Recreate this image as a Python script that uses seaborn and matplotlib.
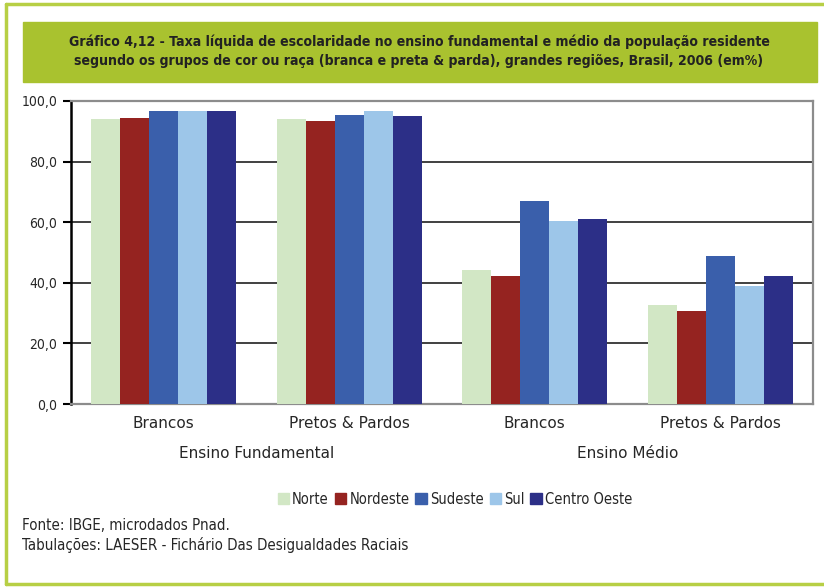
import pandas as pd
import seaborn as sns
from matplotlib import pyplot as plt
from matplotlib.patches import Rectangle
from matplotlib.lines import Line2D
from matplotlib.ticker import FuncFormatter

grupos = ["Brancos F", "Pretos & Pardos F", "Brancos M", "Pretos & Pardos M"]
rotulos = ["Brancos", "Pretos & Pardos", "Brancos", "Pretos & Pardos"]
niveis = ["Ensino Fundamental", "Ensino Médio"]
regioes = ["Norte", "Nordeste", "Sudeste", "Sul", "Centro Oeste"]
cores = ["#d2e7c5", "#952320", "#3a5fab", "#9dc6e9", "#2c2f87"]

norte = [94.0, 94.0, 44.3, 32.7]
nordeste = [94.5, 93.4, 42.1, 30.6]
sudeste = [96.7, 95.5, 66.9, 48.7]
sul = [96.7, 96.7, 60.4, 39.0]
centro_oeste = [96.7, 95.0, 60.9, 42.1]

valores = [norte, nordeste, sudeste, sul, centro_oeste]
rows = []
for regiao, serie in zip(regioes, valores):
    for grupo, v in zip(grupos, serie):
        rows.append({"grupo": grupo, "regiao": regiao, "taxa": v})
df = pd.DataFrame(rows)

sns.set_style("white")
plt.rcParams["font.family"] = ["DejaVu Sans"]
plt.rcParams["font.stretch"] = "condensed"

fig = plt.figure(figsize=(8.24, 5.87), dpi=100)
W, H = 824, 587

# green frame
verde = "#b7cf45"
fig.add_artist(Line2D([6 / W, 6 / W], [1 - 4 / H, 1 - 584 / H], color=verde, lw=2.5, transform=fig.transFigure))
fig.add_artist(Line2D([6 / W, 1], [1 - 4 / H, 1 - 4 / H], color=verde, lw=2.5, transform=fig.transFigure))
fig.add_artist(Line2D([6 / W, 1], [1 - 584 / H, 1 - 584 / H], color=verde, lw=2.5, transform=fig.transFigure))
fig.add_artist(Rectangle((23 / W, 1 - 82 / H), 794 / W, 60 / H, color="#a9c22f", transform=fig.transFigure))
titulo = fig.text(419 / W, 1 - 51.5 / H,
                  "Gráfico 4,12 - Taxa líquida de escolaridade no ensino fundamental e médio da população residente\n"
                  "segundo os grupos de cor ou raça (branca e preta & parda), grandes regiões, Brasil, 2006 (em%)",
                  ha="center", va="center", fontsize=12, fontweight="bold", color="#222222", linespacing=1.5)

# fit title to the width of the reference text (~700 px)
r = fig.canvas.get_renderer()
w = titulo.get_window_extent(r).width
titulo.set_fontsize(12 * 700 / w)

ax = fig.add_axes([71 / W, 1 - 404 / H, 742 / W, 303 / H])
sns.barplot(df, x="grupo", y="taxa", hue="regiao", order=grupos, hue_order=regioes,
            palette=cores, width=0.78, saturation=1, errorbar=None, legend=False, ax=ax, zorder=3)
for p in ax.patches:
    p.set_linewidth(0)

ax.set_ylim(0, 100)
ax.set_xlim(-0.5, 3.5)
ax.set_yticks([0, 20, 40, 60, 80, 100])
ax.yaxis.set_major_formatter(FuncFormatter(lambda v, _: f"{v:.1f}".replace(".", ",")))
for y in [20, 40, 60, 80]:
    ax.axhline(y, color="#404040", lw=1.4, zorder=1)
ax.set_xticks(range(4))
ax.set_xticklabels(rotulos, fontsize=11, fontstretch="normal")
ax.tick_params(axis="x", length=0, pad=9)
ax.tick_params(axis="y", direction="out", length=6, width=1.5, color="black", labelsize=10, left=True, pad=4)
ax.set_xlabel("")
ax.set_ylabel("")
ax.spines["left"].set_color("black")
ax.spines["left"].set_linewidth(1.8)
for s in ["top", "right", "bottom"]:
    ax.spines[s].set_color("#8c8c8c")
    ax.spines[s].set_linewidth(1.6)

ax.text(0.5, -0.14, niveis[0], transform=ax.get_xaxis_transform(), ha="center", va="top", fontsize=11, fontstretch="normal")
ax.text(2.5, -0.14, niveis[1], transform=ax.get_xaxis_transform(), ha="center", va="top", fontsize=11, fontstretch="normal")

handles = [Rectangle((0, 0), 1, 1, color=c) for c in cores]
fig.legend(handles, regioes, loc="center", bbox_to_anchor=(455 / W, 1 - 499 / H), ncol=5, frameon=False,
           fontsize=10.5, handlelength=0.8, handleheight=0.8, handletextpad=0.2, columnspacing=0.4,
           borderpad=0, borderaxespad=0)

fig.text(22 / W, 1 - 525 / H, "Fonte: IBGE, microdados Pnad.", fontsize=10.8, va="center")
fig.text(22 / W, 1 - 545 / H, "Tabulações: LAESER - Fichário Das Desigualdades Raciais", fontsize=10.8, va="center")

fig.savefig("out.png", dpi=100)
